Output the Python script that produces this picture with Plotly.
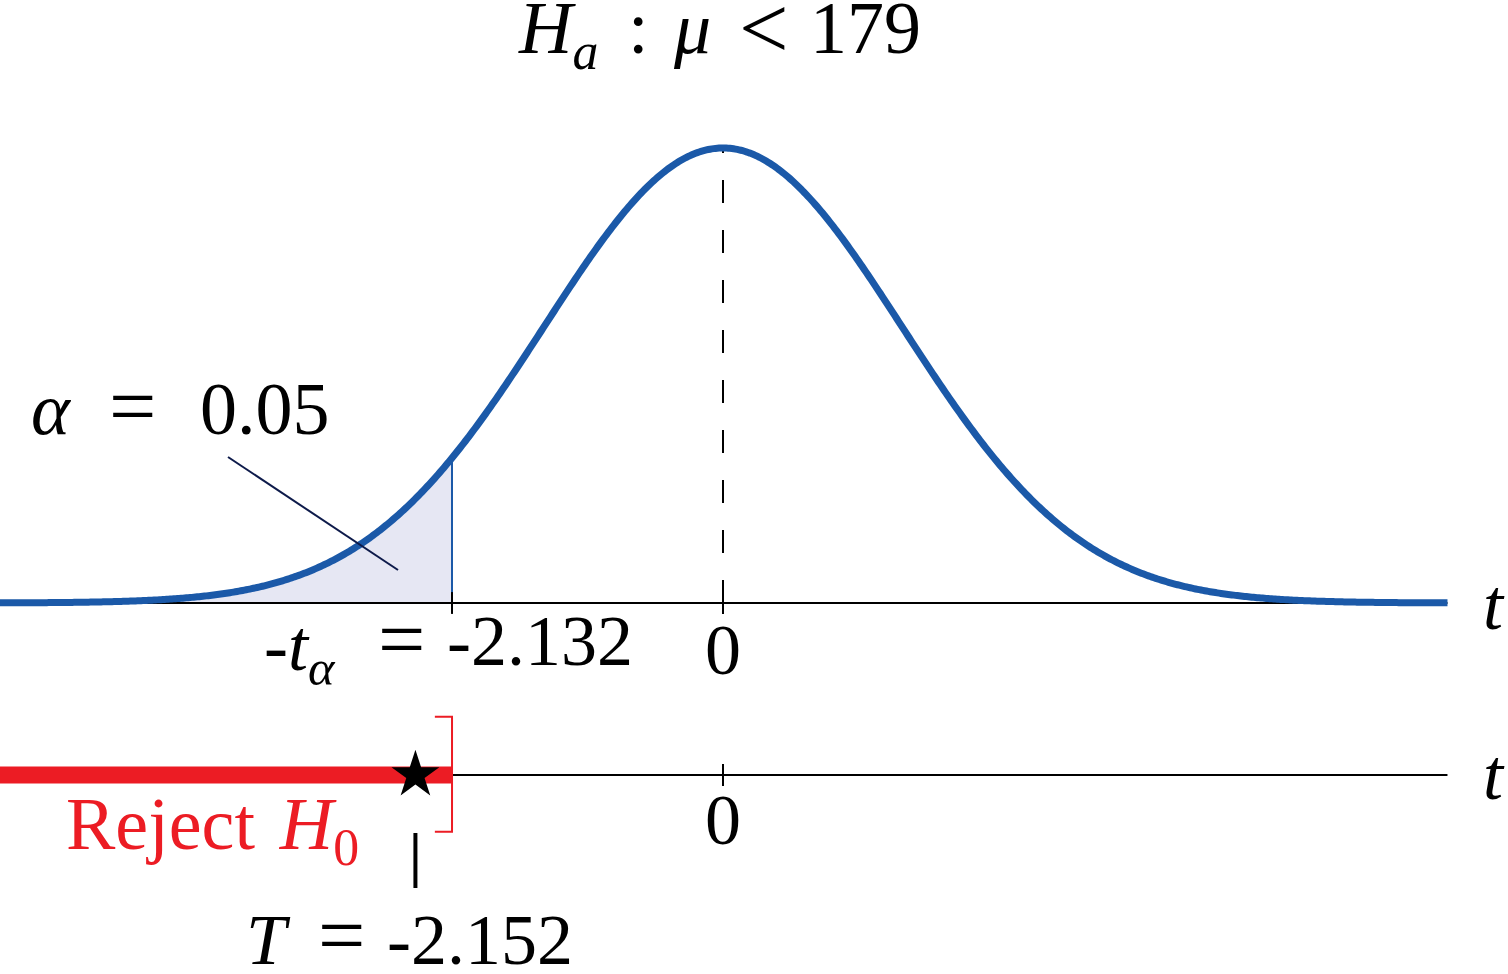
import numpy as np
import plotly.graph_objects as go

# ---- data (t units as labelled in the picture) ----
t_crit = -2.132            # critical value  -t_alpha
t_crit_label = "-2.132"
alpha_label = "0.05"
T_label = "-2.152"
T_star_pos = -2.42         # where the star is drawn in the picture
mu0 = 179
curve_scale = 1.41         # spread of the illustrative bell curve
x_left, x_right = -5.69, 5.70
lower_line_y = -0.378

curve_t = np.linspace(x_left, x_right, 800)
curve_y = np.exp(-0.5 * (curve_t / curve_scale) ** 2)
shade_t = curve_t[curve_t <= t_crit]
shade_y = curve_y[curve_t <= t_crit]
crit_y = float(np.exp(-0.5 * (t_crit / curve_scale) ** 2))

BLUE = "#1b59a8"
RED = "#ec1c24"
FONT = "Liberation Serif"

# page-pixel -> axis helpers (used only for placing labels / decorations)
PX_X, PX_Y, X0, Y0 = 127.1, 455.0, 723.0, 603.0
def X(p): return (p - X0) / PX_X
def Y(p): return (Y0 - p) / PX_Y

fig = go.Figure()

fig.add_trace(go.Scatter(
    x=np.concatenate([shade_t, [t_crit, t_crit]]),
    y=np.concatenate([shade_y, [crit_y, 0]]),
    fill="tozeroy", fillcolor="#e6e7f3", line=dict(width=0, simplify=False), mode="lines",
    hoverinfo="skip", showlegend=False))
fig.add_trace(go.Scatter(x=[t_crit, t_crit], y=[0, crit_y], mode="lines",
                         line=dict(color=BLUE, width=2), showlegend=False))
fig.add_trace(go.Scatter(x=[x_left, x_right], y=[0, 0], mode="lines",
                         line=dict(color="black", width=2), showlegend=False))
fig.add_trace(go.Scatter(x=[0, 0], y=[0, 1], mode="lines",
                         line=dict(color="black", width=2, dash="23px,27px"),
                         showlegend=False))
fig.add_trace(go.Scatter(x=curve_t, y=curve_y, mode="lines",
                         line=dict(color=BLUE, width=7, simplify=False), showlegend=False))

fig.add_trace(go.Scatter(x=[t_crit, x_right], y=[lower_line_y, lower_line_y], mode="lines",
                         line=dict(color="black", width=2), showlegend=False))
fig.add_trace(go.Scatter(x=[x_left, t_crit], y=[lower_line_y, lower_line_y], mode="lines",
                         line=dict(color=RED, width=17), showlegend=False))
fig.add_trace(go.Scatter(x=[t_crit - 0.135, t_crit, t_crit, t_crit - 0.135],
                         y=[lower_line_y + 0.128, lower_line_y + 0.128,
                            lower_line_y - 0.125, lower_line_y - 0.125],
                         mode="lines", line=dict(color=RED, width=2), showlegend=False))
fig.add_trace(go.Scatter(x=[T_star_pos], y=[lower_line_y], mode="markers",
                         marker=dict(symbol="star", size=36, color="black"),
                         showlegend=False))

shapes = []
for tx, ty, h in [(t_crit, 0, 0.024), (0, 0, 0.024), (0, lower_line_y, 0.024)]:
    shapes.append(dict(type="line", xref="x", yref="y", x0=tx, x1=tx, y0=ty - h, y1=ty + h,
                       line=dict(color="black", width=2)))
shapes.append(dict(type="line", xref="x", yref="y", x0=X(228), y0=Y(457), x1=X(398), y1=Y(570),
                   line=dict(color="#0d1a4a", width=2)))
shapes.append(dict(type="line", xref="x", yref="y", x0=T_star_pos, x1=T_star_pos,
                   y0=Y(833), y1=Y(888), line=dict(color="black", width=4)))

ann = []
def add(text, px, py, size=72, color="black", xanchor="center", yanchor="middle", yshift=0):
    ann.append(dict(text=text, x=X(px), y=Y(py), xref="x", yref="y", showarrow=False,
                    xanchor=xanchor, yanchor=yanchor, yshift=yshift,
                    font=dict(family=FONT, size=size, color=color)))

# title  H_a : mu < 179
for txt, cx, sz, ys in [("<i>H</i><sub><i>a</i></sub>", 558, 74, 18), (":", 638, 74, 18),
                        ("<i>μ</i>", 692, 74, 18), ("&lt;", 764, 88, 25),
                        (f"{mu0}", 865, 74, 18)]:
    add(txt, cx, 3, size=sz, yanchor="top", yshift=ys)

# alpha = 0.05
add("<i>α</i>", 51, 409, size=74)
add("=", 132, 406, size=84)
add(alpha_label, 265, 409, size=74)

# -t_alpha = -2.132
add("-<i>t</i><sub><i>α</i></sub>", 300, 651, size=72)
add("=", 401, 639, size=84)
add(t_crit_label, 540, 641, size=72)

add("0", 723, 650, size=72)
add("<i>t</i>", 1494, 605, size=72)
add("0", 723, 820, size=72)
add("<i>t</i>", 1494, 775, size=72)

add("Reject\u2004<i>H</i><sub>0</sub>", 64, 829, size=74, color=RED, xanchor="left")

# T = -2.152
add("<i>T</i>", 268, 940, size=72)
add("=", 341, 935, size=84)
add(T_label, 480, 940, size=72)

fig.update_layout(
    width=1508, height=974, margin=dict(l=0, r=0, t=0, b=0),
    paper_bgcolor="white", plot_bgcolor="white",
    xaxis=dict(range=[X(0), X(1508)], visible=False, fixedrange=True),
    yaxis=dict(range=[Y(974), Y(0)], visible=False, fixedrange=True),
    shapes=shapes, annotations=ann, showlegend=False,
)
fig.write_html("out.html", config={"displayModeBar": False},
               post_script="document.body.style.margin='0';")
